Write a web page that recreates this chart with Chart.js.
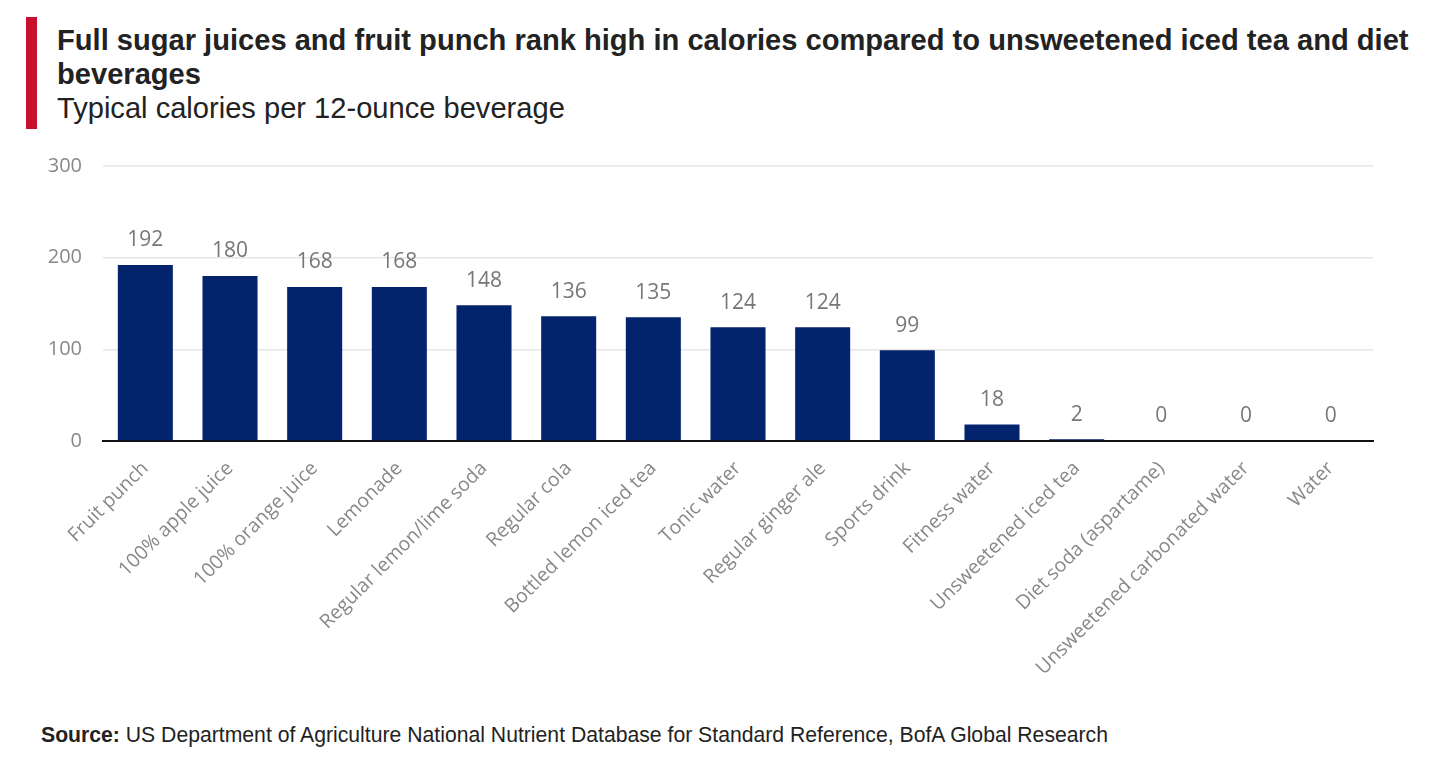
<!DOCTYPE html>
<html>
<head>
<meta charset="utf-8">
<script src="https://cdn.jsdelivr.net/npm/chart.js@4"></script>
<style>
  html, body { margin:0; padding:0; background:#fff; }
  body { width:1439px; height:758px; position:relative; overflow:hidden; font-family:"Liberation Sans", Arial, sans-serif; color:#222; }
  #bar { position:absolute; left:26px; top:17px; width:11px; height:112px; background:#c8102e; }
  #title { position:absolute; left:57px; top:23px; width:1382px; font-weight:bold; font-size:29.1px; line-height:34px; color:#222; }
  #subtitle { position:absolute; left:57px; top:93px; font-size:29.1px; line-height:30px; color:#222; }
  #wrap { position:absolute; left:0; top:133px; width:1439px; height:567px; }
  #source { position:absolute; left:41px; top:723px; font-size:21.2px; line-height:24px; color:#222; }
</style>
</head>
<body>
<div id="bar"></div>
<div id="title">Full sugar juices and fruit punch rank high in calories compared to unsweetened iced tea and diet beverages</div>
<div id="subtitle">Typical calories per 12-ounce beverage</div>
<div id="wrap"><canvas id="c"></canvas></div>
<div id="source"><b>Source:</b> US Department of Agriculture National Nutrient Database for Standard Reference, BofA Global Research</div>
<script>
const categories = ["Fruit punch","100% apple juice","100% orange juice","Lemonade","Regular lemon/lime soda","Regular cola","Bottled lemon iced tea","Tonic water","Regular ginger ale","Sports drink","Fitness water","Unsweetened iced tea","Diet soda (aspartame)","Unsweetened carbonated water","Water"];
const calories = [192,180,168,168,148,136,135,124,124,99,18,2,0,0,0];
const yTicks = [0,100,200,300];

const labelFont = "'Liberation Sans Narrow', 'Open Sans', sans-serif";

const valueLabels = {
  id: 'valueLabels',
  afterDatasetsDraw(chart) {
    const ctx = chart.ctx;
    const meta = chart.getDatasetMeta(0);
    ctx.save();
    ctx.font = "21px " + labelFont;
    ctx.fillStyle = "#777";
    ctx.textAlign = "center";
    ctx.textBaseline = "bottom";
    meta.data.forEach((el, i) => {
      ctx.fillText(String(calories[i]), el.x, el.y - 14);
    });
    ctx.restore();
  }
};

new Chart(document.getElementById('c'), {
  type: 'bar',
  data: {
    labels: categories,
    datasets: [{ data: calories, backgroundColor: '#03236c', barPercentage: 0.65, categoryPercentage: 1.0 }]
  },
  options: {
    responsive: true,
    maintainAspectRatio: false,
    animation: false,
    layout: { padding: { top: 18, right: 66, left: 0, bottom: 0 } },
    plugins: { legend: { display: false }, tooltip: { enabled: false } },
    scales: {
      x: {
        grid: { display: false, drawTicks: false },
        border: { display: true, color: '#111', width: 2 },
        ticks: {
          color: '#888',
          font: { family: labelFont, size: 19.5 },
          maxRotation: 45, minRotation: 45,
          autoSkip: false,
          padding: 16
        },
        afterFit(scale) { scale.height = 259; }
      },
      y: {
        min: 0, max: 300,
        afterBuildTicks(scale) { scale.ticks = yTicks.map(v => ({ value: v })); },
        grid: { color: '#e6e6e6', lineWidth: 1.5, drawTicks: false },
        border: { display: false },
        ticks: {
          color: '#888',
          font: { family: labelFont, size: 20 },
          padding: 21
        },
        afterFit(scale) { scale.width = 103; }
      }
    }
  },
  plugins: [valueLabels]
});
</script>
</body>
</html>
